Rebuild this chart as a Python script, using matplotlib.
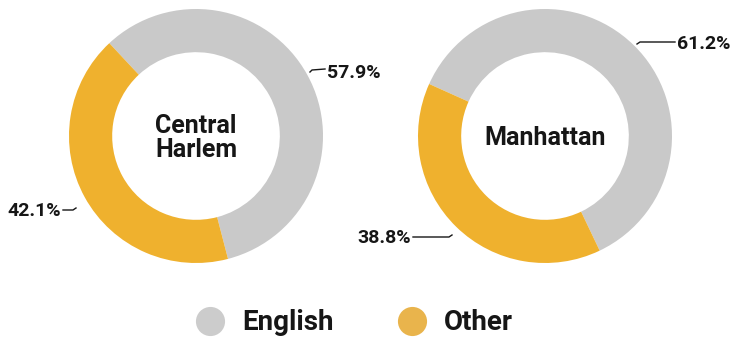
import matplotlib.pyplot as plt

# data
categories = ["English", "Other"]
places = ["Central\nHarlem", "Manhattan"]
harlem = [57.9, 42.1]
manhattan = [61.2, 38.8]
colors = ["#c9c9c9", "#efb12e"]
legend_colors = ["#cccccc", "#e9b44c"]

W, H = 731, 337
fig = plt.figure(figsize=(W / 100, H / 100), dpi=100)
ax = fig.add_axes([0, 0, 1, 1])

R = 127
donuts = [
    (harlem, (196, 201), -75.4),
    (manhattan, (545, 201), -64.5),
]
for vals, c, start in donuts:
    ax.pie(vals, colors=colors, center=c, radius=R, startangle=start,
           counterclock=True, frame=True,
           wedgeprops=dict(width=R * 0.34, linewidth=0))
ax.set_xlim(0, W)
ax.set_ylim(0, H)
ax.set_aspect("equal")
ax.axis("off")

font = "Roboto"
ink = "#161616"
for name, (vals, c, start) in zip(places, donuts):
    ax.text(c[0], c[1] - 2, name, ha="center", va="center", fontsize=18,
            fontweight="bold", family=font, color=ink, linespacing=1.05)

# value labels with leader lines (small hook at the donut end)
lbl = dict(fontsize=14, fontweight="bold", family=font, color=ink, va="center")
ax.plot([310, 312, 325], [H - 72, H - 70, H - 69], color=ink, lw=1)
ax.text(327, H - 73, f"{harlem[0]}%", ha="left", **lbl)
ax.plot([63, 73, 76], [H - 210, H - 210, H - 208], color=ink, lw=1)
ax.text(61, H - 211, f"{harlem[1]}%", ha="right", **lbl)
ax.plot([637, 640, 675], [H - 44, H - 42, H - 42], color=ink, lw=1)
ax.text(677, H - 44, f"{manhattan[0]}%", ha="left", **lbl)
ax.plot([413, 449, 452], [H - 237, H - 237, H - 235], color=ink, lw=1)
ax.text(411, H - 238, f"{manhattan[1]}%", ha="right", **lbl)

# legend
for cat, col, x in zip(categories, legend_colors, [210, 412]):
    ax.scatter([x], [H - 321], s=440, color=col, linewidths=0)
    ax.text(x + 32, H - 323, cat, ha="left", va="center", fontsize=20,
            fontweight="bold", family=font, color=ink)

fig.savefig("out.png", dpi=100)
